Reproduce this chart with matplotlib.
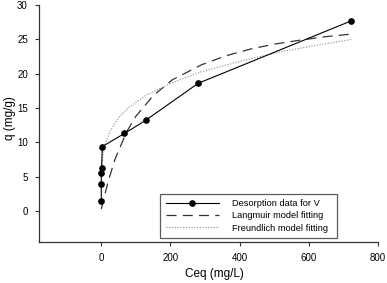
import matplotlib
matplotlib.use("Agg")
import matplotlib.pyplot as plt

plt.rcParams['font.family'] = ['Liberation Sans', 'DejaVu Sans']

# Experimental data
ceq_data = [0, 0, 0, 1, 3, 67, 128, 280, 723]
q_data = [1.5, 3.9, 5.6, 6.3, 9.4, 11.3, 13.2, 18.6, 27.7]

# Langmuir fitting curve
ceq_lang = [0, 10, 21, 40, 74, 100, 150, 205, 290, 360, 432, 500, 577, 650, 730]
q_lang = [0.3, 2.35, 4.5, 7.6, 11.6, 13.8, 16.8, 19.1, 21.3, 22.6, 23.6, 24.3, 24.9, 25.4, 25.8]

# Freundlich fitting curve
ceq_freu = [1.5, 5, 12, 25, 50, 80, 130, 200, 290, 400, 520, 630, 725]
q_freu = [6.1, 8.1, 9.8, 11.6, 13.6, 15.1, 16.9, 18.6, 20.3, 21.8, 23.2, 24.2, 25.0]

xticks = [0, 200, 400, 600, 800]
yticks = [0, 5, 10, 15, 20, 25, 30]

fig = plt.figure(figsize=(3.87, 2.83), dpi=100)
ax = fig.add_axes([0.1008, 0.1449, 0.8760, 0.8374])

ax.plot(ceq_data, q_data, color='black', lw=0.8, marker='o', ms=3.8,
        label='Desorption data for V', zorder=3)
ax.plot(ceq_lang, q_lang, color='#333333', lw=0.9, dashes=(8, 5),
        label='Langmuir model fitting', zorder=2)
ax.plot(ceq_freu, q_freu, color='#8a8a8a', lw=0.8, linestyle=(0, (1, 1.5)),
        label='Freundlich model fitting', zorder=2)

ax.set_xlim(-180, 800)
ax.set_ylim(-4.5, 30)
ax.set_xticks(xticks)
ax.set_yticks(yticks)
for s in ['top', 'right']:
    ax.spines[s].set_visible(False)
for s in ['left', 'bottom']:
    ax.spines[s].set_linewidth(0.9)
    ax.spines[s].set_color('#333333')
ax.tick_params(direction='out', length=3, width=0.8, labelsize=7, pad=5,
               colors='#333333', labelcolor='black')

ax.set_xlabel('Ceq (mg/L)', fontsize=8.5, va='center')
ax.set_ylabel('q (mg/g)', fontsize=8.5, va='center')
ax.xaxis.set_label_coords(0.516, -0.135)
ax.yaxis.set_label_coords(-0.0855, 0.523)

leg = ax.legend(loc='lower left', bbox_to_anchor=(0.357, 0.016, 0.521, 0.211),
                mode='expand', fontsize=6.7, frameon=True, fancybox=False,
                edgecolor='#333333', handlelength=5.7, numpoints=1,
                borderpad=0.6, labelspacing=0.35, handletextpad=1.4,
                borderaxespad=0)
leg.get_frame().set_linewidth(0.9)

fig.savefig('out.png', dpi=100)
